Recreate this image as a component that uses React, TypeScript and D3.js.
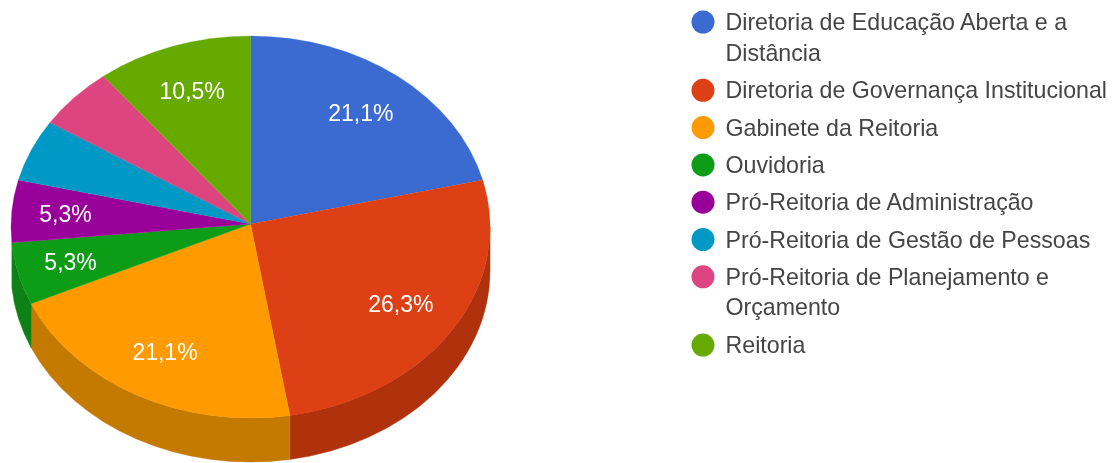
import React from "react";
import * as d3 from "d3";

const categories = [
  ["Diretoria de Educação Aberta e a", "Distância"],
  ["Diretoria de Governança Institucional"],
  ["Gabinete da Reitoria"],
  ["Ouvidoria"],
  ["Pró-Reitoria de Administração"],
  ["Pró-Reitoria de Gestão de Pessoas"],
  ["Pró-Reitoria de Planejamento e", "Orçamento"],
  ["Reitoria"],
];
const counts = [4, 5, 4, 1, 1, 1, 1, 2];
const sliceLabels = ["21,1%", "26,3%", "21,1%", "5,3%", "5,3%", "", "", "10,5%"];
const topColors = ["#3a6bd0", "#de3f12", "#ff9b00", "#109c18", "#990099", "#0099c6", "#dd4480", "#66aa00"];
const sideColors = ["#28488f", "#b0310f", "#c47a00", "#0f8015", "#6b006b", "#006b8a", "#9a3054", "#477700"];

const W = 1120, H = 463;
const cx = 250.5, cy = 227, rx = 239.5, ry = 191, depth = 44;
const apexY = 224;
const font = "'Liberation Sans', Arial, sans-serif";
const wallStart = Math.PI / 2;
const wallEnd = (265 / 180) * Math.PI;

const pt = (a: number, dy = 0): [number, number] => [cx + rx * Math.sin(a), cy - ry * Math.cos(a) + dy];

export default function App() {
  const arcs = d3.pie<number>().sort(null).startAngle(0).endAngle(2 * Math.PI)(counts);

  const ell = (a0: number, a1: number, dy: number, sweep: 0 | 1) => {
    const [x, y] = pt(a1, dy);
    const large = Math.abs(a1 - a0) > Math.PI ? 1 : 0;
    return `A${rx},${ry} 0 ${large} ${sweep} ${x},${y}`;
  };

  const topPath = (a0: number, a1: number) => {
    const [x0, y0] = pt(a0);
    return `M${cx},${apexY} L${x0},${y0} ${ell(a0, a1, 0, 1)} Z`;
  };

  const sidePath = (a0: number, a1: number) => {
    const s = Math.max(a0, wallStart), e = Math.min(a1, wallEnd);
    if (s >= e) return null;
    const [x0, y0] = pt(s);
    const [x1, y1] = pt(e, depth);
    return `M${x0},${y0} ${ell(s, e, 0, 1)} L${x1},${y1} ${ell(e, s, depth, 0)} Z`;
  };

  const yLegend = d3.scaleLinear().domain([0, 1]).range([22, 59.3]);
  let row = 0;
  let extra = 0;

  return (
    <svg width={W} height={H} style={{ position: "absolute", left: 0, top: 0, background: "#fff" }}>
      <defs>
        <filter id="soft" x="-5%" y="-5%" width="110%" height="110%">
          <feGaussianBlur stdDeviation="0.7" />
        </filter>
      </defs>
      <g filter="url(#soft)">
        {arcs.map((d, i) => {
          const p = sidePath(d.startAngle, d.endAngle);
          return p ? <path key={i} d={p} fill={sideColors[i]} stroke={sideColors[i]} strokeWidth={0.5} /> : null;
        })}
        {arcs.map((d, i) => (
          <path key={i} d={topPath(d.startAngle, d.endAngle)} fill={topColors[i]} stroke={topColors[i]} strokeWidth={0.3} />
        ))}
        {arcs.map((d, i) => {
          if (!sliceLabels[i]) return null;
          const mid = (d.startAngle + d.endAngle) / 2;
          const f = d.value === 1 ? 0.775 : 0.75;
          const x = cx + f * rx * Math.sin(mid);
          const y = cy - 1 - f * ry * Math.cos(mid);
          return (
            <text key={i} x={x} y={y} dy="0.35em" textAnchor="middle" fill="#fff" fontFamily={font} fontSize={23}>
              {sliceLabels[i]}
            </text>
          );
        })}
        {categories.map((lines, i) => {
          const y = yLegend(row) + extra;
          row += 1;
          extra += (lines.length - 1) * 31;
          return (
            <g key={i}>
              <circle cx={703} cy={y} r={11.5} fill={topColors[i]} />
              {lines.map((t, j) => (
                <text key={j} x={725.5} y={y + j * 30.5} dy="0.35em" fill="#444" fontFamily={font} fontSize={23.2}>
                  {t}
                </text>
              ))}
            </g>
          );
        })}
      </g>
    </svg>
  );
}
